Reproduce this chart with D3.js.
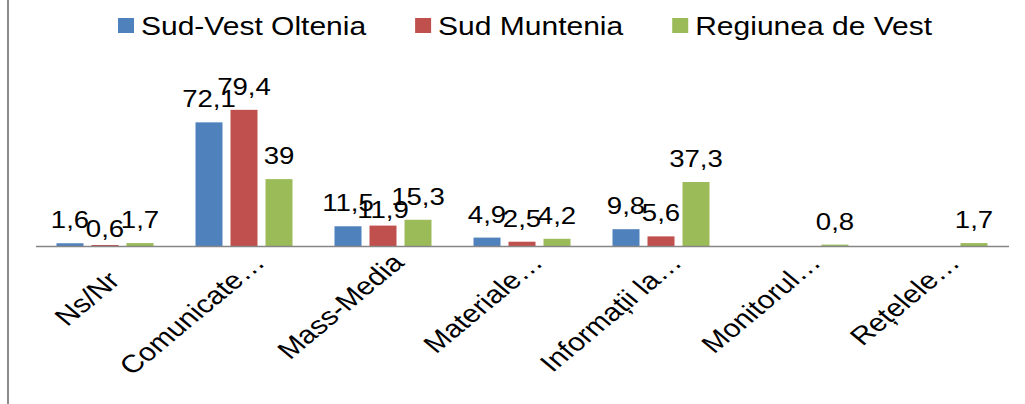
<!doctype html>
<html lang="ro">
<head>
<meta charset="utf-8">
<style>
    body { margin: 0; background: #fff; }
    text { font-family: "Liberation Sans", Arial, sans-serif; fill: #000; }
</style>
</head>
<body>
<div class="chart"></div>
<script src="https://cdn.jsdelivr.net/npm/d3@7"></script>
<script>

    const categories = ['Ns/Nr', 'Comunicate…', 'Mass-Media', 'Materiale…', 'Informații la…', 'Monitorul…', 'Rețelele…'];
    const seriesNames = ['Sud-Vest Oltenia', 'Sud Muntenia', 'Regiunea de Vest'];
    const sudVestOltenia = [1.6, 72.1, 11.5, 4.9, 9.8, null, null];
    const sudMuntenia = [0.6, 79.4, 11.9, 2.5, 5.6, null, null];
    const regiuneaDeVest = [1.7, 39, 15.3, 4.2, 37.3, 0.8, 1.7];

    const colors = ['#4F81BD', '#C0504D', '#9BBB59'];
    const seriesValues = [sudVestOltenia, sudMuntenia, regiuneaDeVest];

    let width = 1025;
    let height = 404;
    let stretch = 1.2;   // the picture is a bit wider than tall, text too
    let baseY = 246;

    let svg = d3.select('.chart').append('svg')
        .attr('width', width)
        .attr('height', height);

    // left border of the frame
    svg.append('line')
        .attr('x1', 8).attr('x2', 8)
        .attr('y1', 0).attr('y2', height)
        .attr('stroke', '#8c8c8c')
        .attr('stroke-width', 2);

    let x = d3.scaleBand()
        .domain(categories)
        .range([35.5, 1008.5]);

    let x1 = d3.scaleBand()
        .domain(seriesNames)
        .range([0, x.bandwidth()])
        .paddingInner(8 / 35)
        .paddingOuter(0.6);

    let y = d3.scaleLinear()
        .domain([0, 90])
        .range([baseY, baseY - 90 * 1.715]);

    let fmt = (v) => String(v).replace('.', ',');

    // bars
    let groups = svg.append('g').attr('class', 'bars')
        .selectAll('g')
        .data(seriesNames)
        .join('g')
        .attr('fill', (d, i) => colors[i]);

    groups.selectAll('rect')
        .data((s, si) => categories.map((c, ci) => ({s: s, c: c, v: seriesValues[si][ci]}))
            .filter(d => d.v !== null))
        .join('rect')
        .attr('x', d => x(d.c) + x1(d.s))
        .attr('width', x1.bandwidth())
        .attr('y', d => y(d.v))
        .attr('height', d => y(0) - y(d.v));

    // axis
    let axis = svg.append('g')
        .attr('class', 'x-axis')
        .attr('transform', `translate(0,${baseY})`)
        .call(d3.axisBottom(x).tickSize(0).tickSizeOuter(0));

    axis.select('.domain').attr('stroke', '#868686').attr('stroke-width', 1.3);

    // excel puts the short, untruncated label a bit lower
    axis.selectAll('.tick text')
        .attr('y', 0)
        .attr('dy', '0.35em')
        .attr('text-anchor', 'end')
        .style('font-size', '25px')
        .style('font-family', '"Liberation Sans", Arial, sans-serif')
        .attr('fill', '#000')
        .attr('transform', d => {
            let off = d.length < 6 ? [9, 30] : [15, 12];
            return `translate(${off[0]},${off[1]}) scale(${stretch},1) rotate(-45)`;
        });

    // data labels
    let labels = svg.append('g').attr('class', 'labels');
    seriesNames.forEach((s, si) => {
        categories.forEach((c, ci) => {
            let v = seriesValues[si][ci];
            if (v === null) return;
            let ly = y(v) - 15;
            // middle label sitting level with its left neighbour gets pushed down a little
            let left = si > 0 ? seriesValues[si - 1][ci] : null;
            if (si === 1 && left !== null && Math.abs(y(v) - y(left)) < 3) ly += 7;
            labels.append('text')
                .attr('transform', `translate(${x(c) + x1(s) + x1.bandwidth() / 2},${ly}) scale(${stretch},1)`)
                .attr('text-anchor', 'middle')
                .style('font-size', '23px')
                .text(fmt(v));
        });
    });

    // legend
    let legend = svg.append('g').attr('class', 'legend');
    let lx = 118;
    seriesNames.forEach((s, i) => {
        legend.append('rect')
            .attr('x', lx).attr('y', 18)
            .attr('width', 16).attr('height', 15)
            .attr('fill', colors[i]);
        let t = legend.append('text')
            .attr('transform', `translate(${lx + 23},35) scale(${stretch},1)`)
            .style('font-size', '25px')
            .text(s);
        lx += 23 + t.node().getComputedTextLength() * stretch + 49;
    });

</script>
</body>
</html>
